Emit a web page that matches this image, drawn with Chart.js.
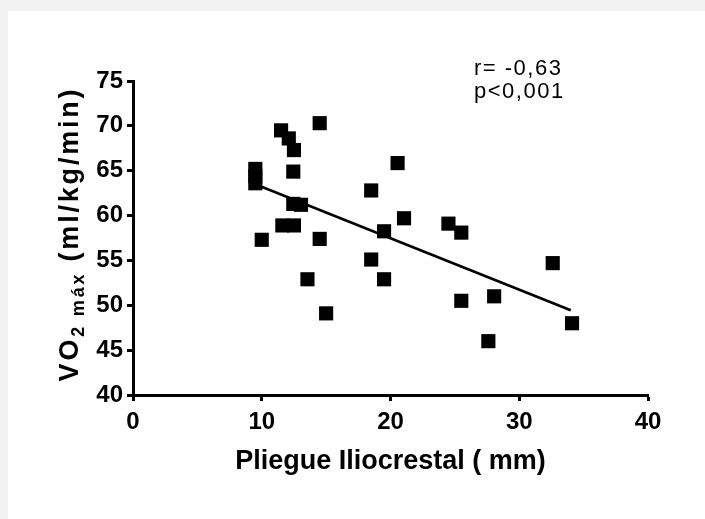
<!DOCTYPE html>
<html>
<head>
<meta charset="utf-8">
<script src="https://cdn.jsdelivr.net/npm/chart.js@4"></script>
<style>
  html, body { margin: 0; padding: 0; background: #f2f2f2; }
  #panel { position: absolute; left: 8px; top: 11px; width: 697px; height: 508px; background: #fff; }
  canvas { display: block; }
</style>
</head>
<body>
<div id="panel"><canvas id="scatterChart" width="697" height="508"></canvas></div>
<script>
// Pliegue iliocrestal (mm) vs VO2 max (ml/kg/min)
const pliegue = [9.5, 9.5, 9.5, 10.0, 11.5, 12.1, 12.5, 12.45, 12.45, 13.05, 11.6, 12.5, 14.5, 14.5, 13.55,
                 15.0, 18.5, 18.5, 19.5, 19.5, 20.55, 21.05, 24.5, 25.5, 25.5, 28.05, 27.6, 32.6, 34.1];
const vo2max = [65.2, 64.4, 63.6, 57.3, 69.5, 68.6, 67.3, 64.9, 61.3, 61.2, 58.9, 58.9, 70.3, 57.4, 52.9,
                49.1, 62.8, 55.1, 58.25, 52.9, 65.85, 59.7, 59.1, 58.1, 50.5, 51.0, 46.0, 54.7, 48.0];

// regression line ends
const lineX = [9.5, 34.0];
const lineY = [63.5, 49.45];

const xTicks = [0, 10, 20, 30, 40];
const yTicks = [40, 45, 50, 55, 60, 65, 70, 75];

const stats = ['r= -0,63', 'p<0,001'];

const tickFont = { family: 'Liberation Sans', size: 24, weight: 'bold' };

const axisGrid = {
    drawOnChartArea: false,
    drawTicks: true,
    tickLength: 6,
    tickWidth: 3,
    color: '#000'
};

// y title with subscript, drawn by hand
const yTitlePlugin = {
    id: 'yTitle',
    afterDraw(chart) {
        const ctx = chart.ctx;
        const area = chart.chartArea;
        const big = 'bold 27px "Liberation Sans"';
        const small = 'bold 18px "Liberation Sans"';
        const parts = [['VO', big, 0], ['2 máx', small, 6], [' (ml/kg/min)', big, 0]];
        ctx.save();
        ctx.letterSpacing = '2.8px';
        let total = 0;
        parts.forEach(p => { ctx.font = p[1]; total += ctx.measureText(p[0]).width; });
        ctx.translate(60, (area.top + area.bottom) / 2 - 4);
        ctx.rotate(-Math.PI / 2);
        ctx.fillStyle = '#000';
        ctx.textBaseline = 'alphabetic';
        let x = -total / 2;
        parts.forEach(p => {
            ctx.font = p[1];
            ctx.fillText(p[0], x, 10 + p[2]);
            x += ctx.measureText(p[0]).width;
        });
        ctx.restore();
    }
};

const statsPlugin = {
    id: 'stats',
    afterDraw(chart) {
        const ctx = chart.ctx;
        ctx.save();
        ctx.font = '22px "Liberation Sans"';
        ctx.letterSpacing = '1.5px';
        ctx.fillStyle = '#000';
        ctx.textBaseline = 'alphabetic';
        stats.forEach((s, i) => ctx.fillText(s, 466, 64 + i * 23));
        ctx.restore();
    }
};

const scatterChart = document.getElementById('scatterChart');

new Chart(scatterChart, {
    type: 'scatter',
    data: {
        datasets: [
            {
                label: 'VO2 máx',
                data: pliegue.map((x, i) => ({ x: x, y: vo2max[i] })),
                pointStyle: 'rect',
                pointRadius: 10,
                pointHoverRadius: 10,
                backgroundColor: '#000',
                borderWidth: 0
            },
            {
                type: 'line',
                label: 'Regresión',
                data: lineX.map((x, i) => ({ x: x, y: lineY[i] })),
                borderColor: '#000',
                borderWidth: 2.6,
                pointRadius: 0,
                fill: false
            }
        ]
    },
    options: {
        responsive: false,
        animation: false,
        devicePixelRatio: 1,
        layout: { padding: { top: 70, right: 57, left: 0, bottom: 0 } },
        plugins: {
            legend: { display: false },
            tooltip: { enabled: false }
        },
        scales: {
            x: {
                type: 'linear',
                min: 0,
                max: 40,
                afterBuildTicks: s => { s.ticks = xTicks.map(v => ({ value: v })); },
                afterFit: s => { s.height = 124; },
                ticks: { color: '#000', font: tickFont, padding: 7, maxRotation: 0 },
                grid: axisGrid,
                border: { color: '#000', width: 3 },
                title: {
                    display: true,
                    text: 'Pliegue Iliocrestal ( mm)',
                    color: '#000',
                    font: { family: 'Liberation Sans', size: 27, weight: 'bold' },
                    padding: { top: 0, bottom: 41 }
                }
            },
            y: {
                type: 'linear',
                min: 40,
                max: 75,
                afterBuildTicks: s => { s.ticks = yTicks.map(v => ({ value: v })); },
                afterFit: s => { s.width = 125; },
                ticks: { color: '#000', font: tickFont, padding: 4 },
                grid: axisGrid,
                border: { color: '#000', width: 3 }
            }
        }
    },
    plugins: [yTitlePlugin, statsPlugin]
});
</script>
</body>
</html>
